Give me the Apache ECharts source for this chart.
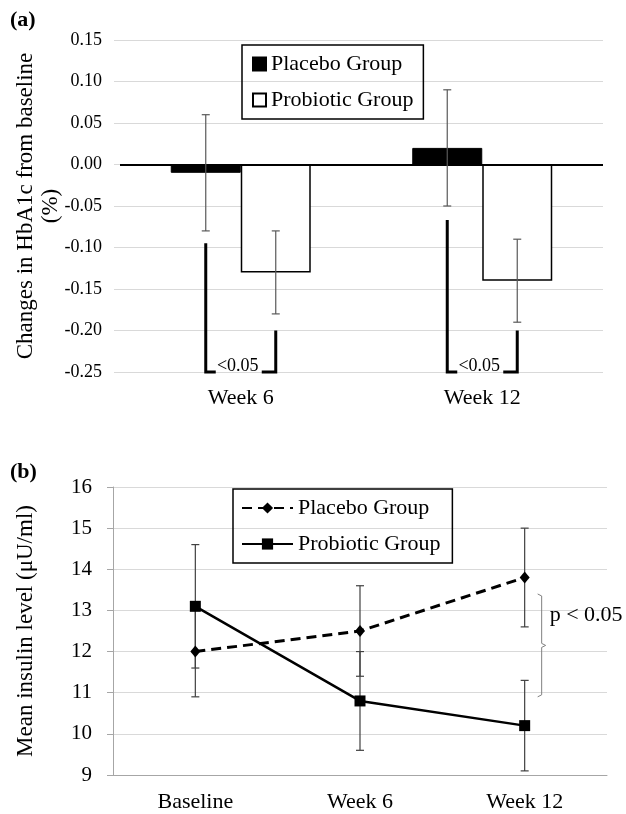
<!DOCTYPE html>
<html>
<head>
    <meta charset="utf-8">
    <script src="https://cdn.jsdelivr.net/npm/echarts@6/dist/echarts.min.js"></script>
    <style>
        html, body { margin: 0; padding: 0; background: #fff; }
    </style>
</head>
<body>
    <div id="main" style="width: 626px;height:814px;"></div>
    <script type="text/javascript">
        // (a) HbA1c change
        var categoriesA = ['Week 6', 'Week 12'];
        var placeboA = [-0.01, 0.02];
        var placeboAHigh = [0.06, 0.09];
        var placeboALow = [-0.08, -0.05];
        var probioticA = [-0.13, -0.14];
        var probioticAHigh = [-0.08, -0.09];
        var probioticALow = [-0.18, -0.19];
        // bracket ends: left (placebo) top, right (probiotic) top
        var bracketLeftTop = [-0.095, -0.067];
        var bracketRightTop = [-0.20, -0.20];
        var bracketText = '<0.05';

        // (b) insulin
        var categoriesB = ['Baseline', 'Week 6', 'Week 12'];
        var placeboB = [12.0, 12.5, 13.8];
        var placeboBHigh = [13.1, 13.6, 15.0];
        var placeboBLow = [10.9, 11.4, 12.6];
        var probioticB = [13.1, 10.8, 10.2];
        var probioticBHigh = [14.6, 12.0, 11.3];
        var probioticBLow = [11.6, 9.6, 9.1];
        var braceB = [[2, 13.4, 10.9]];
        var braceText = 'p < 0.05';

        var labels = {
            placeboA: 'Placebo Group', probioticA: 'Probiotic Group',
            placeboB: 'Placebo Group', probioticB: 'Probiotic Group'
        };

        var FONT = '"Liberation Serif", "Times New Roman", serif';
        var BAR_W = 70;
        var GRID_COLOR = '#d9d9d9';

        function errorBar(offset, color) {
            return function (params, api) {
                var i = api.value(0);
                var hi = api.coord([i, api.value(1)]);
                var lo = api.coord([i, api.value(2)]);
                var cx = hi[0] + offset;
                var st = { stroke: color, lineWidth: 1.2 };
                return {
                    type: 'group',
                    children: [
                        { type: 'line', shape: { x1: cx, y1: hi[1], x2: cx, y2: lo[1] }, style: st },
                        { type: 'line', shape: { x1: cx - 4, y1: hi[1], x2: cx + 4, y2: hi[1] }, style: st },
                        { type: 'line', shape: { x1: cx - 4, y1: lo[1], x2: cx + 4, y2: lo[1] }, style: st }
                    ]
                };
            };
        }

        function renderBracket(params, api) {
            var i = api.value(0);
            var c = api.coord([i, -0.25]);
            var xl = c[0] - BAR_W / 2, xr = c[0] + BAR_W / 2, yb = c[1];
            var yl = api.coord([i, api.value(1)])[1];
            var yr = api.coord([i, api.value(2)])[1];
            var st = { stroke: '#000', lineWidth: 3, fill: null };
            return {
                type: 'group',
                children: [
                    { type: 'polyline', shape: { points: [[xl, yl], [xl, yb], [xl + 10, yb]] }, style: st },
                    { type: 'polyline', shape: { points: [[xr - 14, yb], [xr, yb], [xr, yr]] }, style: st },
                    { type: 'text', style: { text: bracketText, x: (xl + xr) / 2 - 3, y: yb - 6,
                        align: 'center', verticalAlign: 'middle', font: '18px ' + FONT, fill: '#000' } }
                ]
            };
        }

        function renderBrace(params, api) {
            var i = api.value(0);
            var t = api.coord([i, api.value(1)]);
            var b = api.coord([i, api.value(2)]);
            var x0 = t[0] + 13, ym = (t[1] + b[1]) / 2;
            return {
                type: 'group',
                children: [
                    { type: 'polyline', shape: { points: [[x0, t[1]], [x0 + 4, t[1] + 2], [x0 + 4, ym - 2], [x0 + 8, ym],
                        [x0 + 4, ym + 2], [x0 + 4, b[1] - 2], [x0, b[1]]] },
                      style: { stroke: '#808080', lineWidth: 1, fill: null } },
                    { type: 'text', style: { text: braceText, x: x0 + 12, y: ym - 30,
                        align: 'left', verticalAlign: 'middle', font: '22px ' + FONT, fill: '#000' } }
                ]
            };
        }

        var myChart = echarts.init(document.getElementById('main'));
        myChart.setOption({
            animation: false,
            backgroundColor: '#fff',
            textStyle: { fontFamily: FONT, color: '#000' },
            title: [
                { text: '(a)', left: 5, top: 4, textStyle: { fontFamily: FONT, fontSize: 22, fontWeight: 'bold', color: '#000' } },
                { text: '(b)', left: 5, top: 456, textStyle: { fontFamily: FONT, fontSize: 22, fontWeight: 'bold', color: '#000' } }
            ],
            legend: [
                {
                    data: ['placeboA', 'probioticA'],
                    formatter: function (n) { return labels[n]; },
                    icon: 'rect',
                    orient: 'vertical', left: 242, top: 45,
                    padding: [8, 10, 8, 10], itemGap: 14,
                    itemWidth: 13, itemHeight: 13,
                    borderColor: '#000', borderWidth: 1.5,
                    textStyle: { fontFamily: FONT, fontSize: 22, color: '#000' }
                },
                {
                    data: ['placeboB', 'probioticB'],
                    formatter: function (n) { return labels[n]; },
                    orient: 'vertical', left: 233, top: 489,
                    padding: [8, 12, 8, 8], itemGap: 14,
                    itemWidth: 51, itemHeight: 14,
                    borderColor: '#000', borderWidth: 1.5,
                    textStyle: { fontFamily: FONT, fontSize: 22, color: '#000' }
                }
            ],
            grid: [
                { left: 120, right: 23, top: 40, bottom: 442, outerBoundsMode: 'none' },
                { left: 113, right: 19, top: 487, bottom: 39, outerBoundsMode: 'none' }
            ],
            xAxis: [
                {
                    gridIndex: 0, type: 'category', data: categoriesA,
                    axisLine: { show: false }, axisTick: { show: false },
                    axisLabel: { fontFamily: FONT, fontSize: 22, color: '#000', margin: 15 }
                },
                {
                    gridIndex: 1, type: 'category', data: categoriesB,
                    axisLine: { lineStyle: { color: '#a6a6a6', width: 1 } },
                    axisTick: { length: 6, lineStyle: { color: '#a6a6a6' } },
                    axisLabel: { fontFamily: FONT, fontSize: 22, color: '#000', margin: 16 }
                }
            ],
            yAxis: [
                {
                    gridIndex: 0, type: 'value', min: -0.25, max: 0.15, interval: 0.05,
                    name: 'Changes in HbA1c from baseline\n(%)',
                    nameLocation: 'middle', nameGap: 57, nameMoveOverlap: false,
                    nameTextStyle: { fontFamily: FONT, fontSize: 23, color: '#000', lineHeight: 25 },
                    axisLine: { show: false },
                    axisTick: { show: true, length: 6, lineStyle: { color: GRID_COLOR } },
                    splitLine: { lineStyle: { color: GRID_COLOR, width: 1 } },
                    axisLabel: { fontFamily: FONT, fontSize: 18, color: '#000', margin: 18,
                        formatter: function (v) { return v.toFixed(2); } }
                },
                {
                    gridIndex: 1, type: 'value', min: 9, max: 16, interval: 1,
                    name: 'Mean insulin level (\u03bcU/ml)',
                    nameLocation: 'middle', nameGap: 76, nameMoveOverlap: false,
                    nameTextStyle: { fontFamily: FONT, fontSize: 23, color: '#000' },
                    axisLine: { show: true, lineStyle: { color: '#a6a6a6', width: 1 } },
                    axisTick: { show: true, length: 6, lineStyle: { color: '#a6a6a6' } },
                    splitLine: { lineStyle: { color: GRID_COLOR, width: 1 } },
                    axisLabel: { fontFamily: FONT, fontSize: 21, color: '#000', margin: 21 }
                }
            ],
            series: [
                {
                    name: 'placeboA', type: 'bar', xAxisIndex: 0, yAxisIndex: 0,
                    data: placeboA, barWidth: BAR_W, barGap: '0%',
                    itemStyle: { color: '#000', borderColor: '#000', borderWidth: 1 },
                    markLine: {
                        silent: true, symbol: 'none', label: { show: false },
                        lineStyle: { color: '#000', width: 2, type: 'solid' },
                        data: [{ yAxis: 0 }]
                    }
                },
                {
                    name: 'probioticA', type: 'bar', xAxisIndex: 0, yAxisIndex: 0,
                    data: probioticA, barWidth: BAR_W, barGap: '0%',
                    itemStyle: { color: '#fff', borderColor: '#000', borderWidth: 1.5 }
                },
                {
                    type: 'custom', xAxisIndex: 0, yAxisIndex: 0, z: 5,
                    renderItem: errorBar(-BAR_W / 2, '#595959'),
                    data: categoriesA.map(function (c, i) { return [i, placeboAHigh[i], placeboALow[i]]; })
                },
                {
                    type: 'custom', xAxisIndex: 0, yAxisIndex: 0, z: 5,
                    renderItem: errorBar(BAR_W / 2, '#595959'),
                    data: categoriesA.map(function (c, i) { return [i, probioticAHigh[i], probioticALow[i]]; })
                },
                {
                    type: 'custom', xAxisIndex: 0, yAxisIndex: 0, z: 6,
                    renderItem: renderBracket,
                    data: categoriesA.map(function (c, i) { return [i, bracketLeftTop[i], bracketRightTop[i]]; })
                },
                {
                    type: 'custom', xAxisIndex: 1, yAxisIndex: 1, z: 1,
                    renderItem: errorBar(0, '#404040'),
                    data: categoriesB.map(function (c, i) { return [i, placeboBHigh[i], placeboBLow[i]]; })
                },
                {
                    type: 'custom', xAxisIndex: 1, yAxisIndex: 1, z: 1,
                    renderItem: errorBar(0, '#404040'),
                    data: categoriesB.map(function (c, i) { return [i, probioticBHigh[i], probioticBLow[i]]; })
                },
                {
                    name: 'placeboB', type: 'line', xAxisIndex: 1, yAxisIndex: 1, z: 3,
                    data: placeboB,
                    symbol: 'diamond', symbolSize: [10, 12],
                    itemStyle: { color: '#000' },
                    lineStyle: { color: '#000', width: 3, type: [10, 6] }
                },
                {
                    name: 'probioticB', type: 'line', xAxisIndex: 1, yAxisIndex: 1, z: 3,
                    data: probioticB,
                    symbol: 'rect', symbolSize: 11,
                    itemStyle: { color: '#000' },
                    lineStyle: { color: '#000', width: 2.5, type: 'solid' }
                },
                {
                    type: 'custom', xAxisIndex: 1, yAxisIndex: 1, z: 4,
                    renderItem: renderBrace,
                    data: braceB
                }
            ]
        });
    </script>
</body>
</html>
